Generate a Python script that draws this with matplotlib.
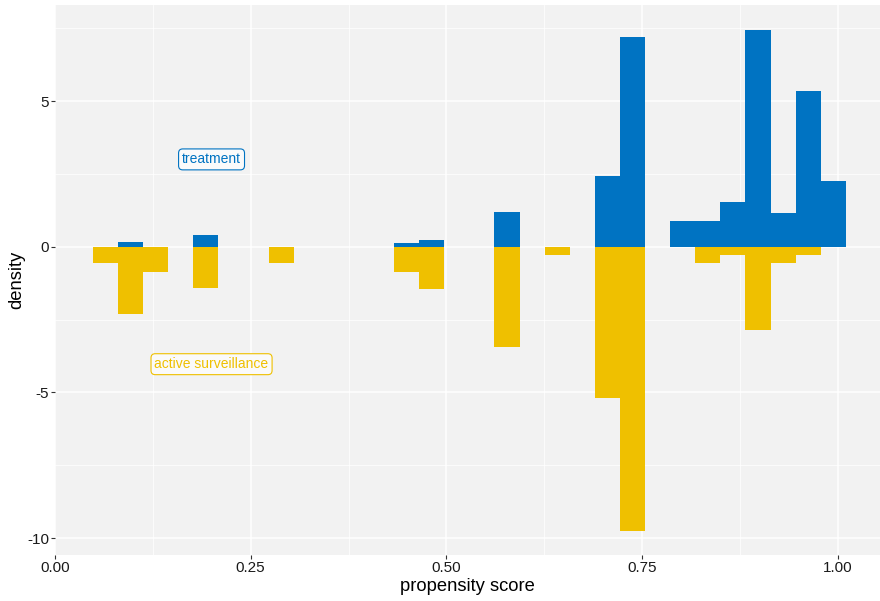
import numpy as np
import matplotlib
matplotlib.use("Agg")
import matplotlib.pyplot as plt

plt.rcParams['font.family'] = ['Liberation Sans', 'DejaVu Sans']

# Histogram bins (30 bins)
bin_start = 0.0485
bin_width = 0.03206
n_bins = 30

# density per bin
treatment = [0, 0.17, 0, 0, 0.41, 0, 0, 0, 0, 0,
             0, 0, 0.14, 0.24, 0, 0, 1.20, 0, 0, 0,
             2.42, 7.20, 0, 0.90, 0.90, 1.55, 7.45, 1.15, 5.34, 2.27]
surveillance = [0.55, 2.30, 0.85, 0, 1.42, 0, 0, 0.55, 0, 0,
                0, 0, 0.85, 1.45, 0, 0, 3.45, 0, 0.28, 0,
                5.20, 9.76, 0, 0, 0.55, 0.28, 2.86, 0.55, 0.28, 0]

x_ticks = [0.00, 0.25, 0.50, 0.75, 1.00]
x_ticklabels = ["0.00", "0.25", "0.50", "0.75", "1.00"]
y_ticks = [-10, -5, 0, 5]
y_ticklabels = ["-10", "-5", "0", "5"]

blue = "#0073C2"
yellow = "#EFC000"

fig = plt.figure(figsize=(8.8, 6.01), dpi=100)
ax = fig.add_axes([55/880, 1-555/601, 1-55/880, (555-5)/601])
ax.set_facecolor("#F2F2F2")

lefts = bin_start + bin_width*np.arange(n_bins)
ax.bar(lefts, treatment, width=bin_width, align='edge', color=blue, linewidth=0, zorder=3)
ax.bar(lefts, -np.array(surveillance), width=bin_width, align='edge', color=yellow, linewidth=0, zorder=3)

ax.set_xlim(0, 1.054)
ax.set_ylim(-10.58, 8.30)

ax.set_xticks(x_ticks)
ax.set_xticklabels(x_ticklabels)
ax.set_yticks(y_ticks)
ax.set_yticklabels(y_ticklabels)
ax.set_xticks([0.125, 0.375, 0.625, 0.875], minor=True)
ax.set_yticks([-7.5, -2.5, 2.5, 7.5], minor=True)
ax.grid(which='major', color='white', linewidth=1.1, zorder=0)
ax.grid(which='minor', color='white', linewidth=0.55, zorder=0)
ax.set_axisbelow(True)
ax.tick_params(which='major', length=2.75, color='#333333', labelsize=11, labelcolor='#1a1a1a', pad=1.5)
ax.tick_params(which='minor', length=0)
for s in ax.spines.values():
    s.set_visible(False)

ax.set_xlabel("propensity score", fontsize=13.2, labelpad=2)
ax.set_ylabel("density", fontsize=13.2, labelpad=1)

ax.text(0.2, 3.0, "treatment", color=blue, fontsize=10, ha='center', va='center', zorder=5,
        bbox=dict(boxstyle='round,pad=0.25,rounding_size=0.3', fc='#FAFAFA', ec=blue, lw=0.8))
ax.text(0.2, -4.03, "active surveillance", color=yellow, fontsize=10, ha='center', va='center', zorder=5,
        bbox=dict(boxstyle='round,pad=0.25,rounding_size=0.3', fc='#FAFAFA', ec=yellow, lw=0.8))

fig.savefig("out.png", dpi=100)
